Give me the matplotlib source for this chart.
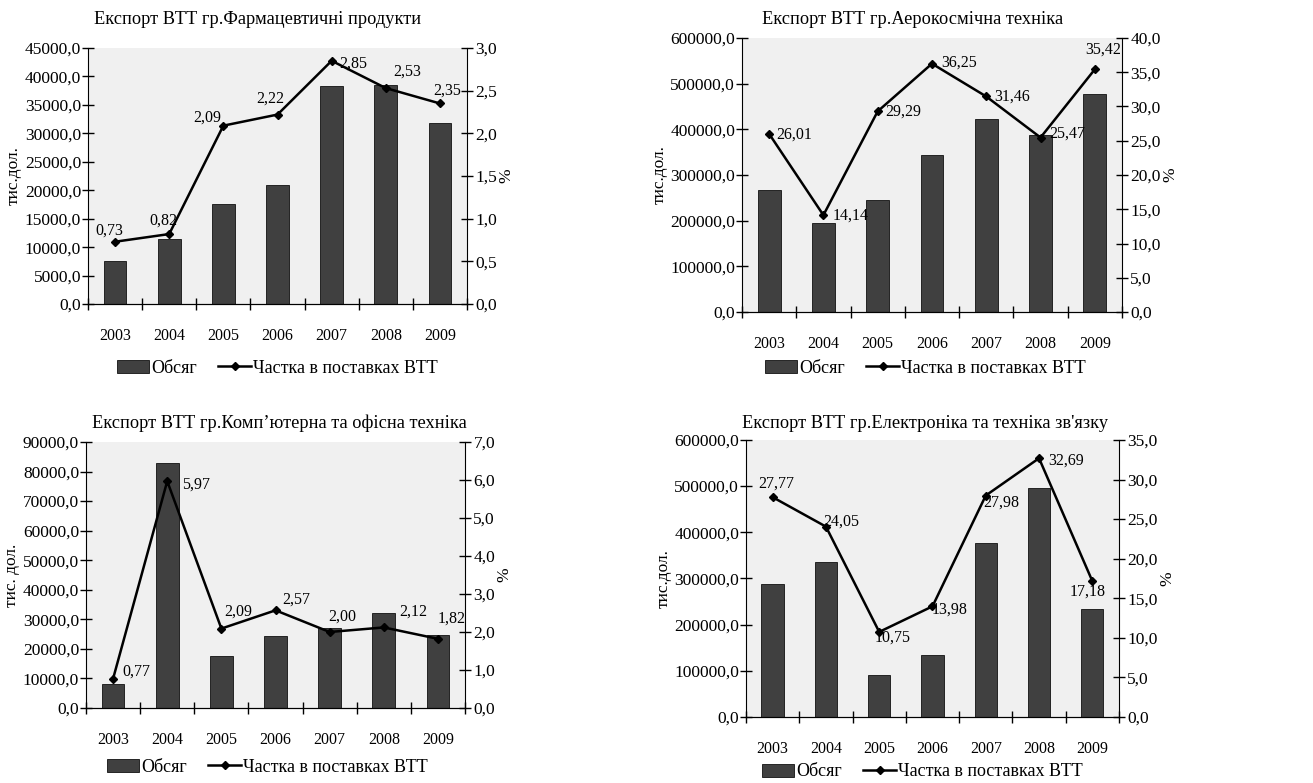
import matplotlib.pyplot as plt
import numpy as np
from matplotlib.ticker import FuncFormatter, FixedLocator
from matplotlib.patches import Patch
from matplotlib.lines import Line2D

plt.rcParams['font.family'] = ['Liberation Serif', 'DejaVu Serif']

years = ['2003', '2004', '2005', '2006', '2007', '2008', '2009']

# Фармацевтичні продукти
pharma_vol = [7500, 11500, 17500, 21000, 38300, 38500, 31800]
pharma_share = [0.73, 0.82, 2.09, 2.22, 2.85, 2.53, 2.35]

# Аерокосмічна техніка
aero_vol = [268000, 196000, 245000, 344000, 422000, 387000, 477000]
aero_share = [26.01, 14.14, 29.29, 36.25, 31.46, 25.47, 35.42]

# Комп'ютерна та офісна техніка
comp_vol = [8200, 83000, 17600, 24400, 27000, 32000, 24800]
comp_share = [0.77, 5.97, 2.09, 2.57, 2.00, 2.12, 1.82]

# Електроніка та техніка зв'язку
elec_vol = [287000, 335000, 91000, 134000, 376000, 497000, 234000]
elec_share = [27.77, 24.05, 10.75, 13.98, 27.98, 32.69, 17.18]

charts = [
    dict(title="Експорт ВТТ гр.Фармацевтичні продукти", vol=pharma_vol, share=pharma_share,
         ylabel="тис.дол.", ymax=45000, ystep=5000, rmax=3.0, rstep=0.5,
         rect=[0.067, 0.6117, 0.2887, 0.327], title_xy=(258, 20), leg_xy=(277, 368),
         offs=[(-6, 11), (-6, 13), (-16, 8), (-7, 16), (22, -3), (21, 16), (7, 13)]),
    dict(title="Експорт ВТТ гр.Аерокосмічна техніка", vol=aero_vol, share=aero_share,
         ylabel="тис.дол.", ymax=600000, ystep=100000, rmax=40.0, rstep=5.0,
         rect=[0.5651, 0.6015, 0.2894, 0.350], title_xy=(913, 20), leg_xy=(925, 368),
         offs=[(25, -1), (27, 0), (26, 0), (27, 1), (26, 0), (27, 4), (8, 20)]),
    dict(title="Експорт ВТТ гр.Комп’ютерна та офісна техніка", vol=comp_vol, share=comp_share,
         ylabel="тис. дол.", ymax=90000, ystep=10000, rmax=7.0, rstep=1.0,
         rect=[0.0655, 0.0958, 0.2887, 0.3397], title_xy=(279, 423), leg_xy=(267, 767),
         offs=[(23, 7), (29, -3), (17, 17), (21, 11), (13, 15), (29, 16), (14, 20)]),
    dict(title="Експорт ВТТ гр.Електроніка та техніка зв'язку", vol=elec_vol, share=elec_share,
         ylabel="тис.дол.", ymax=600000, ystep=100000, rmax=35.0, rstep=5.0,
         rect=[0.5682, 0.0843, 0.284, 0.3538], title_xy=(925, 423), leg_xy=(922, 772),
         offs=[(4, 14), (15, 5), (13, -6), (17, -3), (15, -7), (27, -2), (-5, -11)]),
]

W, H = 1313, 783
fig = plt.figure(figsize=(W / 100, H / 100), dpi=100)

bar_color = '#404040'
bg = '#f0f0f0'
fmt = FuncFormatter(lambda v, p: f"{v:.1f}".replace('.', ','))
x = np.arange(len(years))

for c in charts:
    ax = fig.add_axes(c['rect'])
    ax.set_facecolor(bg)
    ax.bar(x, c['vol'], width=0.42, color=bar_color, edgecolor='#111111', linewidth=0.6, zorder=2)
    ax.set_xlim(-0.5, len(years) - 0.5)
    ax.set_ylim(0, c['ymax'])
    ax.set_yticks(np.arange(0, c['ymax'] + 1, c['ystep']))
    ax.yaxis.set_major_formatter(fmt)
    ax.set_xticks(x)
    ax.set_xticklabels(years)
    ax.xaxis.set_minor_locator(FixedLocator(np.arange(-0.5, len(years), 1.0)))
    ax.tick_params(axis='x', which='major', length=0, pad=17, labelsize=11.5)
    ax.tick_params(axis='x', which='minor', direction='inout', length=9, width=1)
    ax.tick_params(axis='y', direction='inout', length=8, width=1, pad=1, labelsize=12.5)
    ax.spines['top'].set_visible(False)
    ax.spines['right'].set_visible(False)
    ax.set_ylabel(c['ylabel'], fontsize=12.5, labelpad=2)

    ax2 = ax.twinx()
    ax2.plot(x, c['share'], color='black', linewidth=1.8, marker='D', markersize=4, zorder=3)
    ax2.set_ylim(0, c['rmax'])
    ax2.set_yticks(np.arange(0, c['rmax'] + 0.001, c['rstep']))
    ax2.yaxis.set_major_formatter(fmt)
    ax2.tick_params(axis='y', direction='inout', length=8, width=1, pad=2, labelsize=12.5)
    ax2.spines['top'].set_visible(False)
    ax2.spines['left'].set_visible(False)
    ax2.set_ylabel('%', fontsize=12.5, labelpad=1)
    for xi, v, (dx, dy) in zip(x, c['share'], c['offs']):
        ax2.annotate(f"{v:.2f}".replace('.', ','), (xi, v), xytext=(dx, dy),
                     textcoords='offset pixels', ha='center', va='center', fontsize=11.5)

    fig.text(c['title_xy'][0] / W, 1 - c['title_xy'][1] / H, c['title'],
             ha='center', va='center', fontsize=13.2)
    handles = [Patch(facecolor=bar_color, edgecolor='#111111', linewidth=0.6),
               Line2D([], [], color='black', linewidth=1.8, marker='D', markersize=4)]
    fig.legend(handles, ['Обсяг', 'Частка в поставках ВТТ'], loc='center',
               bbox_to_anchor=(c['leg_xy'][0] / W, 1 - c['leg_xy'][1] / H), ncol=2,
               frameon=False, fontsize=13, handlelength=1.8, handletextpad=0.1,
               columnspacing=1.2)

fig.savefig('out.png', dpi=100, facecolor='white')
